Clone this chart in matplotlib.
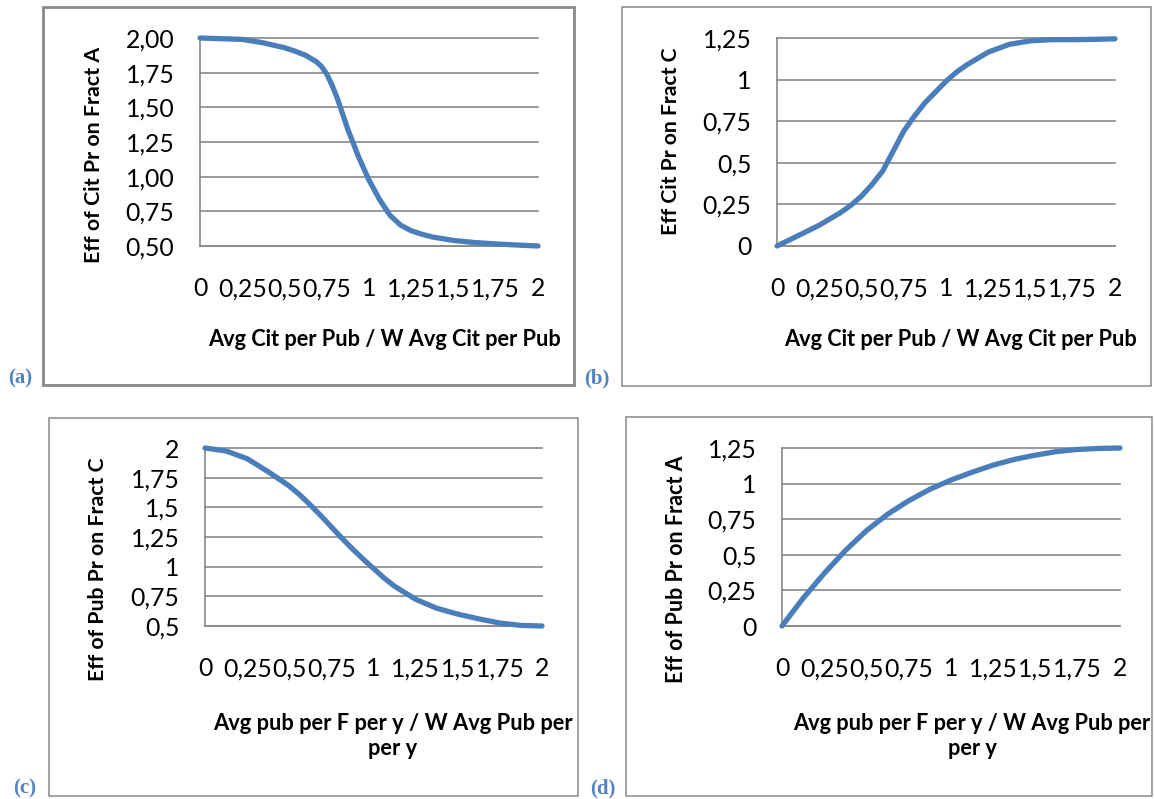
import matplotlib
matplotlib.use("Agg")
import matplotlib.pyplot as plt
from matplotlib.patches import Rectangle

# ---------------- data ----------------
x_ticks = [0, 0.25, 0.5, 0.75, 1, 1.25, 1.5, 1.75, 2]
x_tick_labels = ["0", "0,25", "0,5", "0,75", "1", "1,25", "1,5", "1,75", "2"]

# (a) Eff of Cit Pr on Fract A
x_a = [0, 0.125, 0.25, 0.375, 0.5, 0.5625, 0.625, 0.6875, 0.71875, 0.75, 0.78125,
       0.8125, 0.875, 0.9375, 1.0, 1.0625, 1.125, 1.1875, 1.25, 1.3125, 1.375,
       1.5, 1.625, 1.75, 1.875, 2.0]
y_a = [2.0, 1.995, 1.99, 1.965, 1.93, 1.905, 1.875, 1.83, 1.795, 1.74, 1.66,
       1.565, 1.34, 1.145, 0.975, 0.835, 0.72, 0.65, 0.61, 0.585, 0.565,
       0.54, 0.525, 0.515, 0.507, 0.5]
yt_a = [0.5, 0.75, 1.0, 1.25, 1.5, 1.75, 2.0]
yl_a = ["0,50", "0,75", "1,00", "1,25", "1,50", "1,75", "2,00"]

# (b) Eff Cit Pr on Fract C
x_b = [0, 0.125, 0.25, 0.375, 0.4375, 0.5, 0.5625, 0.625, 0.6875, 0.75, 0.8125,
       0.875, 0.9375, 1.0, 1.0625, 1.125, 1.25, 1.375, 1.5, 1.625, 1.75,
       1.875, 2.0]
y_b = [0.0, 0.062, 0.125, 0.2, 0.245, 0.3, 0.37, 0.45, 0.57, 0.69, 0.78,
       0.86, 0.925, 0.99, 1.045, 1.09, 1.165, 1.212, 1.233, 1.24, 1.24,
       1.242, 1.245]
yt_b = [0, 0.25, 0.5, 0.75, 1.0, 1.25]
yl_b = ["0", "0,25", "0,5", "0,75", "1", "1,25"]

# (c) Eff of Pub Pr on Fract C
x_c = [0, 0.125, 0.25, 0.375, 0.5, 0.5625, 0.625, 0.6875, 0.75, 0.8125, 0.875,
       0.9375, 1.0, 1.0625, 1.125, 1.25, 1.375, 1.5, 1.625, 1.75, 1.875, 2.0]
y_c = [2.0, 1.975, 1.91, 1.8, 1.68, 1.605, 1.52, 1.43, 1.335, 1.24, 1.15,
       1.065, 0.985, 0.905, 0.835, 0.725, 0.65, 0.6, 0.56, 0.525, 0.505, 0.5]
yt_c = [0.5, 0.75, 1.0, 1.25, 1.5, 1.75, 2.0]
yl_c = ["0,5", "0,75", "1", "1,25", "1,5", "1,75", "2"]

# (d) Eff of Pub Pr on Fract A
x_d = [0, 0.125, 0.25, 0.375, 0.5, 0.625, 0.75, 0.875, 1.0, 1.125, 1.25,
       1.375, 1.5, 1.625, 1.75, 1.875, 2.0]
y_d = [0.0, 0.195, 0.37, 0.53, 0.67, 0.785, 0.88, 0.96, 1.025, 1.08, 1.13,
       1.17, 1.2, 1.225, 1.24, 1.247, 1.25]
yt_d = [0, 0.25, 0.5, 0.75, 1.0, 1.25]
yl_d = ["0", "0,25", "0,5", "0,75", "1", "1,25"]

xlab_cit = "Avg Cit per Pub / W Avg Cit per Pub"
xlab_pub = "Avg pub per F per y / W Avg Pub per\nper y"
ylab_a = "Eff of Cit Pr on Fract A"
ylab_b = "Eff Cit Pr on Fract C"
ylab_c = "Eff of Pub Pr on Fract C"
ylab_d = "Eff of Pub Pr on Fract A"
panel_tags = ["(a)", "(b)", "(c)", "(d)"]

# ---------------- layout ----------------
W, H, DPI = 1154, 799, 100
fig = plt.figure(figsize=(W / DPI, H / DPI), dpi=DPI)
FONT = "Lato"
LINE_COLOR = "#4A7EBB"
GRID_COLOR = "#898989"
TAG_COLOR = "#5283C0"


def frect(x0, y0, x1, y1):
    return [x0 / W, 1 - y1 / H, (x1 - x0) / W, (y1 - y0) / H]


renderer = fig.canvas.get_renderer()


def fit_text(t, target, vertical=False):
    fs = t.get_fontsize()
    for _ in range(3):
        bb = t.get_window_extent(renderer)
        cur = bb.height if vertical else bb.width
        fs = fs * target / cur
        t.set_fontsize(fs)
    return t


panels = [
    dict(x=x_a, y=y_a, yt=yt_a, yl=yl_a, ylim=(0.5, 2.0), plot=(200, 38, 538, 246),
         frame=(43, 7, 574, 385), flw=2.0, xlab=xlab_cit, xlab_pos=(384, 339), xlab_w=352,
         ylab=ylab_a, ylab_pos=(94, 155), ylab_h=216, tag_pos=(20, 378)),
    dict(x=x_b, y=y_b, yt=yt_b, yl=yl_b, ylim=(0, 1.25), plot=(777, 38, 1115, 246),
         frame=(622, 7, 1151, 386), flw=1.1, xlab=xlab_cit, xlab_pos=(961, 339), xlab_w=352,
         ylab=ylab_b, ylab_pos=(671, 141), ylab_h=188, tag_pos=(597, 378)),
    dict(x=x_c, y=y_c, yt=yt_c, yl=yl_c, ylim=(0.5, 2.0), plot=(205, 448, 542, 626),
         frame=(49, 418, 578, 796), flw=1.1, xlab=xlab_pub, xlab_pos=(393, 736), xlab_w=360,
         ylab=ylab_c, ylab_pos=(98, 569), ylab_h=225, tag_pos=(25, 788)),
    dict(x=x_d, y=y_d, yt=yt_d, yl=yl_d, ylim=(0, 1.25), plot=(782, 448, 1120, 626),
         frame=(626, 417, 1152, 796), flw=1.1, xlab=xlab_pub, xlab_pos=(972, 736), xlab_w=359,
         ylab=ylab_d, ylab_pos=(676, 569), ylab_h=228, tag_pos=(603, 788)),
]

for p, tag in zip(panels, panel_tags):
    x0, y0, x1, y1 = p["frame"]
    fig.add_artist(Rectangle((x0 / W, 1 - y1 / H), (x1 - x0) / W, (y1 - y0) / H,
                             transform=fig.transFigure, fill=False,
                             edgecolor=GRID_COLOR, linewidth=p["flw"]))

    ax = fig.add_axes(frect(*p["plot"]))
    ax.plot(p["x"], p["y"], color=LINE_COLOR, linewidth=3.8,
            solid_capstyle="round", solid_joinstyle="round", clip_on=False, zorder=5)
    ax.set_xlim(0, 2)
    ax.set_ylim(*p["ylim"])
    ax.set_xticks(x_ticks, x_tick_labels)
    ax.set_yticks(p["yt"], p["yl"])
    ax.tick_params(axis="both", length=0, labelsize=17.8)
    ax.tick_params(axis="y", pad=18.5)
    ax.tick_params(axis="x", pad=22.5)
    for lab in ax.get_xticklabels() + ax.get_yticklabels():
        lab.set_family(FONT)
    ax.grid(axis="y", color=GRID_COLOR, linewidth=1.2, clip_on=False)
    ax.set_axisbelow(True)
    for s in ("top", "right"):
        ax.spines[s].set_visible(False)
    for s in ("left", "bottom"):
        ax.spines[s].set_color(GRID_COLOR)
        ax.spines[s].set_linewidth(1.2)
    ax.set_facecolor("none")

    tx = fig.text(p["xlab_pos"][0] / W, 1 - p["xlab_pos"][1] / H, p["xlab"],
                  ha="center", va="center", multialignment="center",
                  fontsize=14, fontweight="bold", family=FONT, linespacing=1.25)
    fit_text(tx, p["xlab_w"])
    ty = fig.text(p["ylab_pos"][0] / W, 1 - p["ylab_pos"][1] / H, p["ylab"],
                  ha="center", va="center", rotation=90,
                  fontsize=14, fontweight="bold", family=FONT)
    fit_text(ty, p["ylab_h"], vertical=True)

    fig.text(p["tag_pos"][0] / W, 1 - p["tag_pos"][1] / H, tag,
             ha="center", va="center", fontsize=15, fontweight="bold",
             family="Liberation Serif", color=TAG_COLOR)

fig.savefig("out.png", dpi=DPI)
